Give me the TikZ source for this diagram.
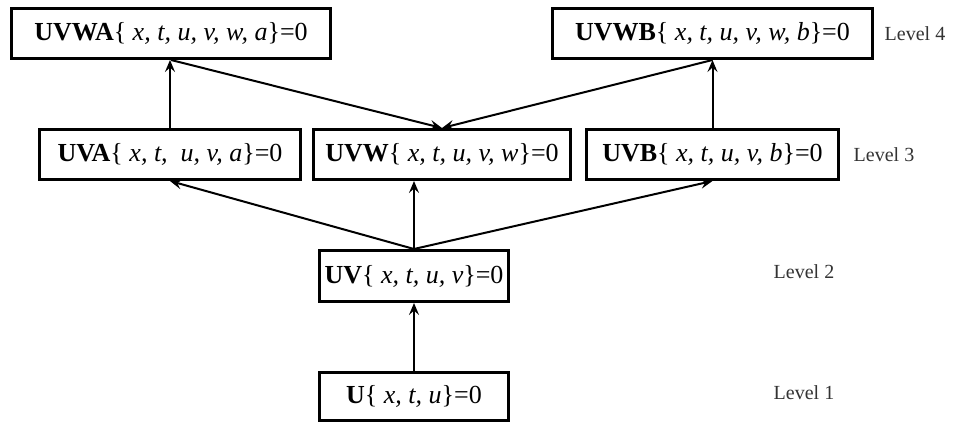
\documentclass[tikz,border=0pt]{standalone}
\usepackage{fontspec}
\setmainfont{Liberation Serif}
\usetikzlibrary{arrows.meta}
\tikzset{
  box/.style={draw, line width=3pt, inner sep=0pt, minimum height=50pt, font=\fontsize{26}{30}\selectfont, anchor=center},
  lvl/.style={font=\fontsize{20}{23}\selectfont, text=black!80, anchor=center},
  conn/.style={line width=2pt, -{Stealth[length=12pt,width=10pt,inset=4.5pt]}}
}
\begin{document}
\begin{tikzpicture}[x=1pt,y=-1pt]
\useasboundingbox (0,0) rectangle (954,423);
\node[box, minimum width=319pt] (uvwa) at (171,33.5) {\textbf{UVWA}\{ \textit{x, t, u, v, w, a}\}=0};
\node[box, minimum width=320pt] (uvwb) at (712.5,33.5) {\textbf{UVWB}\{ \textit{x, t, u, v, w, b}\}=0};
\node[box, minimum width=261pt] (uva) at (170,154.5) {\textbf{UVA}\{ \textit{x, t, \ u, v, a}\}=0};
\node[box, minimum width=257pt] (uvw) at (442,154.5) {\textbf{UVW}\{ \textit{x, t, u, v, w}\}=0};
\node[box, minimum width=252pt] (uvb) at (712.5,154.5) {\textbf{UVB}\{ \textit{x, t, u, v, b}\}=0};
\node[box, minimum width=189pt, minimum height=51pt] (uv) at (414,276) {\textbf{UV}\{ \textit{x, t, u, v}\}=0};
\node[box, minimum width=189pt, minimum height=48pt] (u) at (414,396.5) {\textbf{U}\{ \textit{x, t, u}\}=0};
\node[lvl] (l4) at (915,34) {Level 4};
\node[lvl] (l3) at (884,155) {Level 3};
\node[lvl] (l2) at (804,272) {Level 2};
\node[lvl] (l1) at (804,393) {Level 1};
\draw[conn] (u.north) -- (uv.south);
\draw[conn] (uv.north) -- (uva.south);
\draw[conn] (uv.north) -- (uvw.south -| uv.north);
\draw[conn] (uv.north) -- (uvb.south);
\draw[conn] (uva.north) -- (uvwa.south -| uva.north);
\draw[conn] (uvb.north) -- (uvwb.south);
\draw[conn] (uvwa.south) -- (uvw.north);
\draw[conn] (uvwb.south) -- (uvw.north);
\end{tikzpicture}
\end{document}
